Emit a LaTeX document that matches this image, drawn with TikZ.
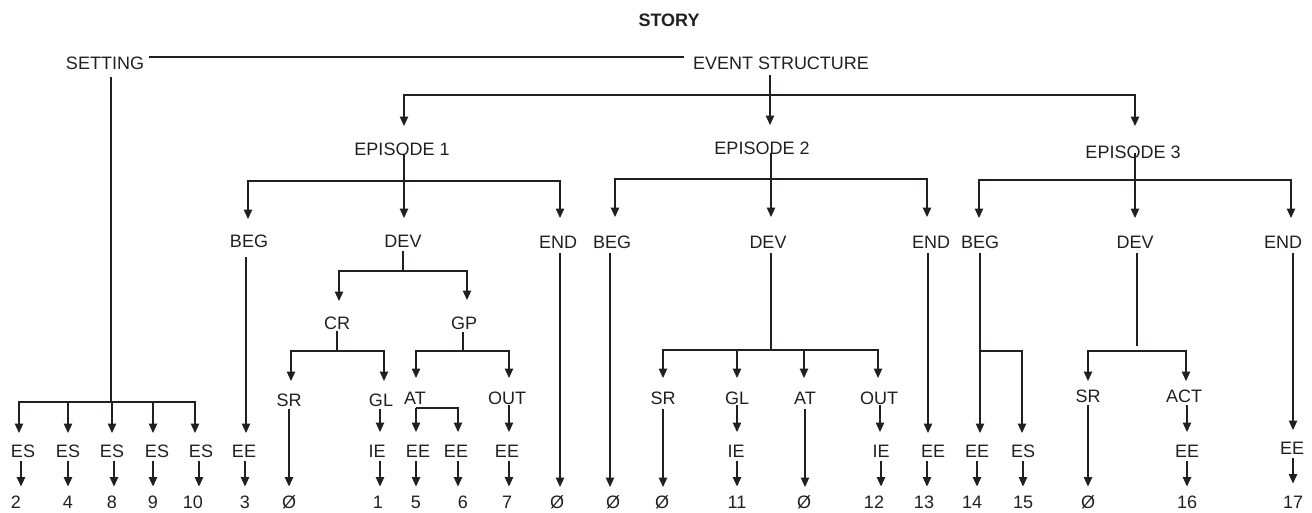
\documentclass[tikz,border=0pt]{standalone}
\usepackage{fontspec}
\setmainfont{Liberation Sans}
\usetikzlibrary{arrows.meta,calc}
\definecolor{ink}{HTML}{231F20}
\newcommand\myarrow[4]{\draw[arr] ($(#1.south)+(#2,3.5)$) -- ($(#3.north)+(#4,-9)$);}
\begin{document}
\begin{tikzpicture}[x=1pt,y=-1pt,
  lab/.style={inner sep=0pt,outer sep=0pt,text height=13pt,text depth=0pt,text=ink,font=\fontsize{18pt}{20pt}\selectfont},
  ln/.style={draw=ink,line width=1.2pt},
  arr/.style={ln,-{Triangle[length=9.5pt,width=8.5pt]}}]
\useasboundingbox (0,0) rectangle (1312,512);

% ---------- labels ----------
\node[lab,font=\fontsize{18pt}{20pt}\selectfont\bfseries] (story) at (669,20) {STORY};
\node[lab] (set) at (105,63) {SETTING};
\node[lab] (evs) at (781,63) {EVENT STRUCTURE};
\node[lab] (ep1) at (402,149) {EPISODE 1};
\node[lab] (ep2) at (762,148) {EPISODE 2};
\node[lab] (ep3) at (1133,152) {EPISODE 3};

\node[lab] (beg1) at (249,241) {BEG};
\node[lab] (dev1) at (403,241) {DEV};
\node[lab] (end1) at (558,242) {END};
\node[lab] (beg2) at (612,242) {BEG};
\node[lab] (dev2) at (768,242) {DEV};
\node[lab] (end2) at (931,242) {END};
\node[lab] (beg3) at (980,242) {BEG};
\node[lab] (dev3) at (1135,242) {DEV};
\node[lab] (end3) at (1283,242) {END};

\node[lab] (cr) at (337,323) {CR};
\node[lab] (gp) at (464,323) {GP};

\node[lab] (sr1) at (289,400) {SR};
\node[lab] (gl1) at (381,400) {GL};
\node[lab] (at1) at (415,398) {AT};
\node[lab] (out1) at (507,398) {OUT};
\node[lab] (sr2) at (663,398) {SR};
\node[lab] (gl2) at (737,398) {GL};
\node[lab] (at2) at (805,398) {AT};
\node[lab] (out2) at (879,398) {OUT};
\node[lab] (sr3) at (1088,396) {SR};
\node[lab] (act) at (1184,396) {ACT};

\node[lab] (es1) at (23,451) {ES};
\node[lab] (es2) at (68,451) {ES};
\node[lab] (es3) at (112,451) {ES};
\node[lab] (es4) at (157,451) {ES};
\node[lab] (es5) at (201,451) {ES};
\node[lab] (ee1) at (244,451) {EE};
\node[lab] (ie1) at (377,451) {IE};
\node[lab] (ee2) at (418,451) {EE};
\node[lab] (ee3) at (456,451) {EE};
\node[lab] (ee4) at (507,451) {EE};
\node[lab] (ie2) at (736,451) {IE};
\node[lab] (ie3) at (881,451) {IE};
\node[lab] (ee5) at (933,451) {EE};
\node[lab] (ee6) at (977,451) {EE};
\node[lab] (es6) at (1023,451) {ES};
\node[lab] (ee7) at (1187,451) {EE};
\node[lab] (ee8) at (1292,448) {EE};

\node[lab] (n2) at (16,502) {2};
\node[lab] (n4) at (68,502) {4};
\node[lab] (n8) at (112,502) {8};
\node[lab] (n9) at (153,502) {9};
\node[lab] (n10) at (193,502) {10};
\node[lab] (n3) at (245,502) {3};
\node[lab] (z1) at (289,502) {Ø};
\node[lab] (n1) at (378,502) {1};
\node[lab] (n5) at (416,502) {5};
\node[lab] (n6) at (463,502) {6};
\node[lab] (n7) at (507,502) {7};
\node[lab] (z2) at (557,502) {Ø};
\node[lab] (z3) at (613,502) {Ø};
\node[lab] (z4) at (662,502) {Ø};
\node[lab] (n11) at (737,502) {11};
\node[lab] (z5) at (804,502) {Ø};
\node[lab] (n12) at (874,502) {12};
\node[lab] (n13) at (924,502) {13};
\node[lab] (n14) at (972,502) {14};
\node[lab] (n15) at (1023,502) {15};
\node[lab] (z6) at (1088,502) {Ø};
\node[lab] (n16) at (1187,502) {16};
\node[lab] (n17) at (1293,502) {17};

% ---------- top level ----------
\draw[ln] ($(set.east)+(5,-6)$) -- ($(evs.west)+(-9,-6)$);

\draw[ln] ($(evs.south)+(-11,5.5)$) -- ++(0,20) coordinate (b0);
\draw[arr] (b0) -| ($(ep1.north)+(2,-16.5)$);
\draw[arr] (b0) -- ($(ep2.north)+(8,-16.5)$);
\draw[arr] (b0) -| ($(ep3.north)+(2,-19.5)$);

% ---------- setting ----------
\draw[ln] ($(set.south)+(6,7.5)$) -- ++(0,325) coordinate (js);
\draw[arr] (js) -| ($(es1.north)+(-4,-11.5)$);
\draw[arr] (js) -| ($(es2.north)+(0,-11.5)$);
\draw[arr] (js) -| ($(es3.north)+(0,-11.5)$);
\draw[arr] (js) -| ($(es4.north)+(-4,-11.5)$);
\draw[arr] (js) -| ($(es5.north)+(-6,-11.5)$);

% ---------- episode 1 ----------
\draw[arr] ($(ep1.center)+(2,5)$) -- ($(dev1.north)+(1,-16.5)$);
\coordinate (j1) at ($(ep1.center)+(2,32)$);
\draw[arr] (j1) -| ($(beg1.north)+(-1,-15.5)$);
\draw[arr] (j1) -| ($(end1.north)+(2,-17.5)$);

\draw[arr] ($(beg1.south)+(-3,9.5)$) -- ($(ee1.north)+(2,-11.5)$);

\draw[ln] ($(dev1.south)+(0,3.5)$) -- ++(0,20) coordinate (jd1);
\draw[arr] (jd1) -| ($(cr.north)+(2,-15.5)$);
\draw[arr] (jd1) -| ($(gp.north)+(3,-16.5)$);

\draw[arr] ($(end1.south)+(2,4.5)$) -- ($(z2.north)+(3,-8.5)$);

\draw[ln] ($(cr.south)+(0,1.5)$) -- ++(0,20) coordinate (jcr);
\draw[arr] (jcr) -| ($(sr1.north)+(2,-12.5)$);
\draw[arr] (jcr) -| ($(gl1.north)+(3,-12.5)$);

\draw[ln] ($(gp.south)+(-1,2.5)$) -- ++(0,19) coordinate (jgp);
\draw[arr] (jgp) -| ($(at1.north)+(1,-13.5)$);
\draw[arr] (jgp) -| ($(out1.north)+(2,-13.5)$);

\draw[arr] ($(sr1.south)+(0,2.5)$) -- ($(z1.north)+(0,-9)$);
\draw[arr] ($(gl1.south)+(-1,2.5)$) -- ($(ie1.north)+(3,-12.5)$);
\coordinate (jat1) at ($(at1.south)+(1,3.5)$);
\draw[arr] (jat1) -- ($(ee2.north)+(-2,-12.5)$);
\draw[arr] (jat1) -| ($(ee3.north)+(2,-12.5)$);
\draw[arr] ($(out1.south)+(2,0.5)$) -- ($(ee4.north)+(2,-12.5)$);

% ---------- episode 2 ----------
\draw[arr] ($(ep2.center)+(9,5)$) -- ($(dev2.north)+(3,-18.5)$);
\coordinate (j2) at ($(ep2.center)+(9,31)$);
\draw[arr] (j2) -| ($(beg2.north)+(3,-18.5)$);
\draw[arr] (j2) -| ($(end2.north)+(-4,-18.5)$);

\draw[arr] ($(beg2.south)+(-2,4.5)$) -- ($(z3.north)+(-3,-8.5)$);

\draw[ln] ($(dev2.south)+(3,4.5)$) -- ++(0,97) coordinate (jd2);
\draw[arr] (jd2) -| ($(sr2.north)+(0,-13.5)$);
\draw[arr] (jd2) -| ($(gl2.north)+(0,-13.5)$);
\draw[arr] (jd2) -| ($(at2.north)+(-1,-13.5)$);
\draw[arr] (jd2) -| ($(out2.north)+(-1,-13.5)$);

\draw[arr] ($(end2.south)+(-3,4.5)$) -- ($(ee5.north)+(-5,-11.5)$);

\draw[arr] ($(sr2.south)+(0,4.5)$) -- ($(z4.north)+(1,-8.5)$);
\draw[arr] ($(gl2.south)+(0,0.5)$) -- ($(ie2.north)+(1,-12.5)$);
\draw[arr] ($(at2.south)+(0,4.5)$) -- ($(z5.north)+(1,-8.5)$);
\draw[arr] ($(out2.south)+(1,0.5)$) -- ($(ie3.north)+(-1,-12.5)$);

% ---------- episode 3 ----------
\draw[arr] ($(ep3.center)+(2,1)$) -- ($(dev3.north)+(0,-17.5)$);
\coordinate (j3) at ($(ep3.center)+(2,28)$);
\draw[arr] (j3) -| ($(beg3.north)+(-1,-17.5)$);
\draw[arr] (j3) -| ($(end3.north)+(8,-17.5)$);

\draw[arr] ($(beg3.south)+(0,4.5)$) -- ($(ee6.north)+(3,-11.5)$);
\coordinate (jb3) at ($(beg3.south)+(0,102.5)$);
\draw[arr] (jb3) -| ($(es6.north)+(-1,-11.5)$);

\draw[ln] ($(dev3.south)+(2,4.5)$) -- ++(0,93);
\coordinate (jd3) at ($(dev3.south)+(2,102.5)$);
\draw[arr] (jd3) -| ($(sr3.north)+(0,-8.5)$);
\draw[arr] (jd3) -| ($(act.north)+(2,-8.5)$);

\draw[arr] ($(end3.south)+(10,4.5)$) -- ($(ee8.north)+(1,-11.5)$);

\draw[arr] ($(sr3.south)+(0,2.5)$) -- ($(z6.north)+(0,-9)$);
\draw[arr] ($(act.south)+(3,2.5)$) -- ($(ee7.north)+(0,-12.5)$);

% ---------- bottom row arrows ----------
\myarrow{es1}{-2}{n2}{5}
\myarrow{es2}{0}{n4}{0}
\myarrow{es3}{2}{n8}{2}
\myarrow{es4}{-4}{n9}{0}
\myarrow{es5}{-2}{n10}{6}
\myarrow{ee1}{1}{n3}{0}
\myarrow{ie1}{3}{n1}{2}
\myarrow{ee2}{-2}{n5}{0}
\myarrow{ee3}{2}{n6}{-5}
\myarrow{ee4}{2}{n7}{2}
\myarrow{ie2}{1}{n11}{0}
\myarrow{ie3}{0}{n12}{7}
\myarrow{ee5}{-6}{n13}{3}
\myarrow{ee6}{0}{n14}{5}
\myarrow{es6}{0}{n15}{0}
\myarrow{ee7}{0}{n16}{0}
\draw[arr] ($(ee8.south)+(1,3.5)$) -- ($(n17.north)+(0,-12)$);
\end{tikzpicture}
\end{document}
